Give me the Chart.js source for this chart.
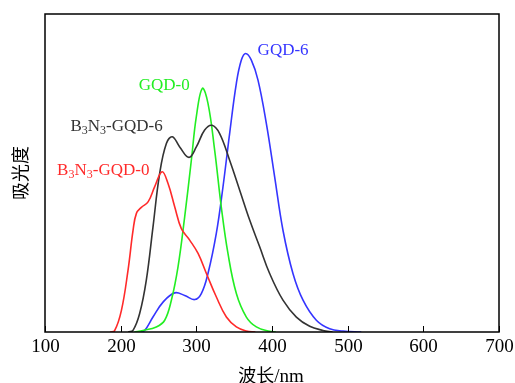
<!DOCTYPE html>
<html>
<head>
<meta charset="utf-8">
<script src="https://cdn.jsdelivr.net/npm/chart.js@4.4.1/dist/chart.umd.min.js"></script>
<style>
  html, body { margin: 0; padding: 0; background: #fff; }
  #wrap { width: 515px; height: 383px; position: relative; }
</style>
</head>
<body>
<div id="wrap"><canvas id="absChart"></canvas></div>
<script>
// Datos (longitud de onda en nm, absorbancia normalizada)
const xTicks = [100, 200, 300, 400, 500, 600, 700];

const redX = [186, 192, 201, 209.7, 216.4, 220.8, 227.4, 236.2, 245, 254.7, 262.6, 271.4, 280.2, 291.2, 302.3, 313.3, 326.5, 339.7, 352.9, 366.1, 378];
const redY = [0, 0.004, 0.068, 0.194, 0.32, 0.373, 0.392, 0.409, 0.457, 0.504, 0.467, 0.394, 0.325, 0.289, 0.247, 0.184, 0.11, 0.047, 0.016, 0.003, 0];

const blackX = [210, 216.3, 225.1, 233.9, 242.7, 251.5, 260.4, 268.3, 278, 290.3, 300, 311, 320.7, 330.8, 344, 357.3, 370.5, 383.7, 396.9, 414.5, 432.2, 449.8, 467.4, 480];
const blackY = [0, 0.005, 0.058, 0.163, 0.33, 0.498, 0.593, 0.614, 0.582, 0.549, 0.582, 0.635, 0.65, 0.624, 0.54, 0.446, 0.352, 0.268, 0.184, 0.1, 0.047, 0.018, 0.005, 0];

const greenX = [218, 229.5, 247.1, 258.2, 267, 275.8, 284.6, 293.4, 300, 307.9, 315.4, 324.2, 333, 341.8, 352.9, 366.1, 379.3, 396.9, 405];
const greenY = [0, 0.005, 0.016, 0.037, 0.1, 0.205, 0.362, 0.54, 0.677, 0.766, 0.719, 0.572, 0.393, 0.247, 0.121, 0.047, 0.016, 0.002, 0];

const blueX = [226, 231.7, 242.7, 256, 271.4, 284.6, 297.8, 306.6, 315.4, 326.4, 335.2, 344, 352.9, 359.5, 365.2, 372.7, 381.5, 392.5, 403.5, 414.5, 427.7, 441, 458.6, 476.2, 493.8, 518];
const blueY = [0, 0.005, 0.047, 0.094, 0.123, 0.115, 0.102, 0.121, 0.184, 0.31, 0.456, 0.624, 0.782, 0.855, 0.876, 0.855, 0.792, 0.656, 0.488, 0.32, 0.184, 0.1, 0.037, 0.01, 0.003, 0];

const seriesNames = ["B3N3-GQD-0", "B3N3-GQD-6", "GQD-0", "GQD-6"];
const seriesColors = ["#ff2a2a", "#333333", "#22ee22", "#3535ff"];

// Etiquetas dentro del gráfico: [partes (texto, subíndice), nm, absorbancia, color]
const labelParts = [
    [[["B", 0], ["3", 1], ["N", 0], ["3", 1], ["-GQD-0", 0]], 116, 0.493, seriesColors[0]],
    [[["B", 0], ["3", 1], ["N", 0], ["3", 1], ["-GQD-6", 0]], 133.6, 0.632, seriesColors[1]],
    [[["GQD-0", 0]], 223.8, 0.761, seriesColors[2]],
    [[["GQD-6", 0]], 381, 0.871, seriesColors[3]]
];

function toPoints(xs, ys) {
    return xs.map((x, i) => ({ x: x, y: ys[i] }));
}

const serif = "'Liberation Serif', 'DejaVu Serif', serif";
const cjk = "'Noto Sans CJK SC', sans-serif";

// Marco, marcas internas, números del eje, títulos y etiquetas
const framePlugin = {
    id: 'framePlugin',
    afterDraw(chart) {
        const ctx = chart.ctx;
        const a = chart.chartArea;
        const xs = chart.scales.x;
        const ys = chart.scales.y;
        ctx.save();
        ctx.strokeStyle = '#000';
        ctx.lineWidth = 1.5;
        ctx.strokeRect(a.left, a.top, a.right - a.left, a.bottom - a.top);
        ctx.lineWidth = 1;
        ctx.fillStyle = '#000';
        ctx.font = '19px ' + serif;
        ctx.textAlign = 'center';
        ctx.textBaseline = 'alphabetic';
        xTicks.forEach(t => {
            const px = Math.round(xs.getPixelForValue(t)) + 0.5;
            ctx.beginPath();
            ctx.moveTo(px, a.bottom);
            ctx.lineTo(px, a.bottom - 6);
            ctx.stroke();
            ctx.fillText(String(t), px, 352);
        });

        // Título eje X
        ctx.textAlign = 'left';
        const t1 = '波长';
        ctx.font = '18px ' + cjk;
        const w1 = ctx.measureText(t1).width;
        ctx.font = '19px ' + serif;
        const w2 = ctx.measureText('/nm').width;
        let sx = 271 - (w1 + w2) / 2;
        ctx.font = '18px ' + cjk;
        ctx.fillText(t1, sx, 382);
        ctx.font = '19px ' + serif;
        ctx.fillText('/nm', sx + w1, 382);

        // Título eje Y
        ctx.save();
        ctx.translate(27, 173);
        ctx.rotate(-Math.PI / 2);
        ctx.font = '18px ' + cjk;
        ctx.textAlign = 'center';
        ctx.fillText('吸光度', 0, 0);
        ctx.restore();

        // Etiquetas de las series
        labelParts.forEach(([parts, nx, ny, color]) => {
            let px = xs.getPixelForValue(nx);
            const py = ys.getPixelForValue(ny);
            ctx.fillStyle = color;
            parts.forEach(([txt, sub]) => {
                ctx.font = (sub ? '12px ' : '17px ') + serif;
                ctx.fillText(txt, px, py + (sub ? 3 : 0));
                px += ctx.measureText(txt).width;
            });
        });
        ctx.restore();
    }
};

const allX = [redX, blackX, greenX, blueX];
const allY = [redY, blackY, greenY, blueY];

new Chart(document.getElementById('absChart'), {
    type: 'line',
    data: {
        datasets: seriesNames.map((name, i) => ({
            label: name,
            data: toPoints(allX[i], allY[i]),
            borderColor: seriesColors[i],
            borderWidth: 1.6,
            pointRadius: 0,
            fill: false,
            tension: 0.4
        }))
    },
    options: {
        responsive: true,
        maintainAspectRatio: false,
        animation: false,
        layout: { padding: { left: 45, right: 16, top: 14, bottom: 0 } },
        plugins: {
            legend: { display: false },
            tooltip: { enabled: false }
        },
        scales: {
            x: {
                type: 'linear',
                min: 100,
                max: 700,
                grid: { display: false },
                border: { display: false },
                ticks: { display: false },
                afterFit: s => { s.height = 51; }
            },
            y: {
                display: false,
                min: 0,
                max: 1
            }
        }
    },
    plugins: [framePlugin]
});
</script>
</body>
</html>
